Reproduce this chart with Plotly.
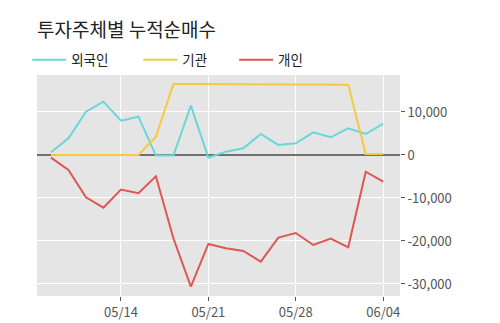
import plotly.graph_objects as go

dates = ["05/08", "05/09", "05/10", "05/11", "05/14", "05/15", "05/16", "05/17", "05/18", "05/21",
         "05/22", "05/23", "05/24", "05/25", "05/28", "05/29", "05/30", "05/31", "06/01", "06/04"]
foreign = [630, 3880, 10070, 12400, 7980, 8910, -150, -150, 11470, -620,
           770, 1550, 4880, 2330, 2710, 5270, 4110, 6200, 4880, 7290]
institution = [0, 0, 0, 0, 0, 0, 4260, 16510, 16510, 16500,
               16480, 16460, 16440, 16420, 16400, 16400, 16380, 16360, 230, 230]
individual = [-620, -3490, -9840, -12250, -8060, -8910, -4960, -19380, -30620, -20700,
              -21700, -22330, -24810, -19230, -18140, -20930, -19460, -21470, -3880, -6200]

names = ["외국인", "기관", "개인"]
colors = ["#6ad6d8", "#f6ca3c", "#de5753"]
series = [foreign, institution, individual]

x_ticks = ["05/14", "05/21", "05/28", "06/04"]
y_ticks = [10000, 0, -10000, -20000, -30000]
y_text = ["10,000", "0", "-10,000", "-20,000", "-30,000"]

idx = list(range(len(dates)))
tick_idx = [dates.index(d) for d in x_ticks]

font = "Noto Sans CJK KR"
legend_ids = ["legend", "legend2", "legend3"]
legend_x = [-0.027, 0.279, 0.543]

fig = go.Figure()
for name, col, vals, lid in zip(names, colors, series, legend_ids):
    fig.add_trace(go.Scatter(x=idx, y=vals, mode="lines", name=name, legend=lid,
                             line=dict(color=col, width=2)))

legend_style = dict(orientation="h", xanchor="left", y=0.998, yanchor="bottom",
                    font=dict(size=13.5, color="#222222", family=font),
                    itemwidth=34, bgcolor="rgba(0,0,0,0)")

fig.update_layout(
    width=500, height=323,
    margin=dict(l=37, r=100, t=75, b=27, autoexpand=False),
    paper_bgcolor="white", plot_bgcolor="#e5e5e5",
    font=dict(family=font, color="#555555", size=13),
    title=dict(text="투자주체별 누적순매수", x=0, xref="paper", xanchor="left",
               y=0.905, yref="container", yanchor="middle",
               font=dict(size=19, color="#222222", family=font)),
    showlegend=True,
    legend=dict(x=legend_x[0], **legend_style),
    legend2=dict(x=legend_x[1], **legend_style),
    legend3=dict(x=legend_x[2], **legend_style),
    xaxis=dict(range=[-0.8, 19.96], tickvals=tick_idx, ticktext=x_ticks,
               showgrid=True, gridcolor="white", gridwidth=1,
               ticks="outside", ticklen=4, tickcolor="#555555",
               zeroline=False, showline=False, fixedrange=True, automargin=False),
    yaxis=dict(side="right", range=[-32800, 18600], tickvals=y_ticks, ticktext=y_text,
               showgrid=True, gridcolor="white", gridwidth=1,
               ticks="outside", ticklen=4, tickcolor="#555555",
               zeroline=True, zerolinecolor="#707070", zerolinewidth=1.5,
               showline=False, fixedrange=True, automargin=False),
)

fig.write_html("out.html")
